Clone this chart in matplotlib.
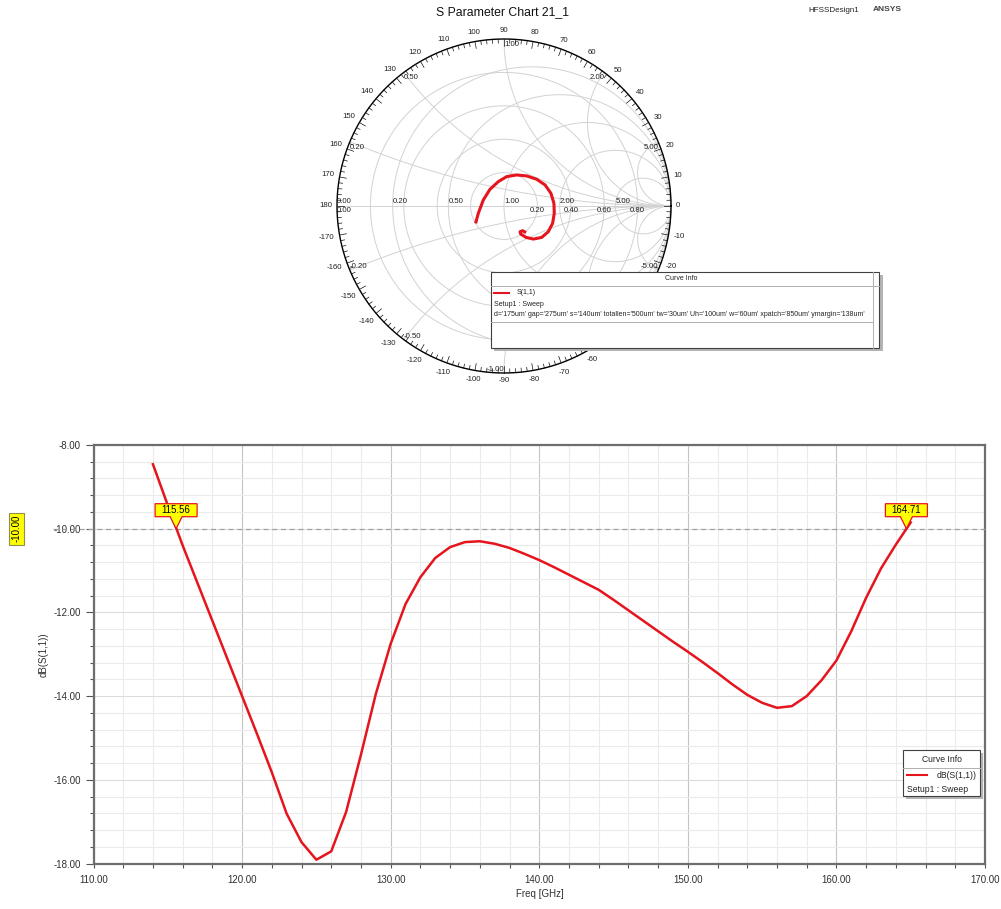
import numpy as np
import matplotlib.pyplot as plt
from matplotlib.patches import Rectangle, Polygon
from matplotlib import transforms

plt.rcParams['font.family'] = ['Liberation Sans', 'DejaVu Sans']

W, H = 1001, 909
RED = '#e5141d'
GRID = '#d2d2d2'
LBL = 5.6

# S(1,1) trace on the Smith chart (reflection coefficient)
s11_re = [-0.170, -0.154, -0.124, -0.084, -0.034, 0.016, 0.076, 0.136, 0.196, 0.246, 0.281,
          0.299, 0.301, 0.291, 0.265, 0.226, 0.176, 0.132, 0.100, 0.096, 0.112, 0.132]
s11_im = [-0.104, -0.044, 0.036, 0.100, 0.146, 0.176, 0.186, 0.180, 0.160, 0.126, 0.076,
          0.016, -0.044, -0.104, -0.154, -0.188, -0.198, -0.188, -0.168, -0.154, -0.148, -0.160]

# dB(S(1,1)) sweep, 1 GHz step
freq_ghz = list(range(114, 166))
db_s11 = [-8.46, -9.44, -10.40, -11.30, -12.20, -13.10, -14.00, -14.90, -15.82, -16.81,
          -17.49, -17.91, -17.71, -16.77, -15.40, -13.95, -12.75, -11.80, -11.16, -10.70,
          -10.44, -10.32, -10.30, -10.36, -10.46, -10.60, -10.75, -10.92, -11.10, -11.28,
          -11.46, -11.70, -11.95, -12.20, -12.45, -12.70, -12.94, -13.19, -13.45, -13.72,
          -13.97, -14.16, -14.28, -14.24, -14.00, -13.62, -13.15, -12.45, -11.65, -10.95,
          -10.38, -9.85]

marker_freqs = [115.56, 164.71]
marker_level = -10.0

r_circles = [0.2, 0.5, 1.0, 2.0, 5.0]
x_arcs = [0.2, 0.5, 1.0, 2.0, 5.0]
mag_circles = [0.2, 0.4, 0.6, 0.8]

param_text = ("d='175um' gap='275um' s='140um' totallen='500um' tw='30um' Uh='100um' "
              "w='60um' xpatch='850um' ymargin='138um'")

fig = plt.figure(figsize=(W / 100, H / 100), dpi=100)


def fx(px):
    return px / W


def fy(py):
    return 1 - py / H


def gamma(z):
    return (z - 1) / (z + 1)


# ---------------- Smith chart ----------------
cx, cy, R = 504.0, 206.0, 167.0
half = 200.0
sm = fig.add_axes([fx(cx - half), fy(cy + half), 2 * half / W, 2 * half / H])
lim = half / R
sm.set_xlim(-lim, lim)
sm.set_ylim(-lim, lim)
sm.set_axis_off()
px = 1.0 / R  # one pixel in chart units

t = np.linspace(0, 2 * np.pi, 721)
for r in r_circles:
    c, a = r / (1 + r), 1 / (1 + r)
    sm.plot(c + a * np.cos(t), a * np.sin(t), color=GRID, lw=0.7, zorder=1)
for m in mag_circles:
    sm.plot(m * np.cos(t), m * np.sin(t), color=GRID, lw=0.7, zorder=1)
rr = np.concatenate([np.linspace(0, 1, 200), np.logspace(0, 4, 400)])
for x in x_arcs:
    for sgn in (1, -1):
        g = gamma(rr + 1j * sgn * x)
        sm.plot(g.real, g.imag, color=GRID, lw=0.7, zorder=1)
sm.plot([-1, 1], [0, 0], color=GRID, lw=0.7, zorder=1)
sm.plot(np.cos(t), np.sin(t), color='black', lw=1.0, zorder=3)

# angle ticks, pointing inward
for deg in range(0, 360, 2):
    th = np.radians(deg)
    ln = (7 if deg % 10 == 0 else 4) * px
    sm.plot([np.cos(th), (1 - ln) * np.cos(th)], [np.sin(th), (1 - ln) * np.sin(th)],
            color='#111111', lw=0.5, zorder=3)

for deg in range(-170, 181, 10):
    th = np.radians(deg)
    lab = str(deg)
    w = 4.3 * len(lab.replace('-', '')) + (2.6 if deg < 0 else 0)
    h = 6.0
    rad = R + 5 + 0.5 * (w * abs(np.cos(th)) + h * abs(np.sin(th)))
    sm.text(rad / R * np.cos(th), rad / R * np.sin(th), lab, fontsize=LBL,
            ha='center', va='center', color='#222222', zorder=4)

# resistance labels above the axis, magnitude labels below
for r in [0.0] + r_circles:
    sm.text(gamma(r), 1 * px, f'{r:.2f}', fontsize=LBL, ha='left', va='bottom',
            color='#222222', zorder=4)
sm.text(-1, -1 * px, '0.00', fontsize=LBL, ha='left', va='top', color='#222222', zorder=4)
for m in mag_circles:
    sm.text(m, -1 * px, f'{m:.2f}', fontsize=LBL, ha='center', va='top',
            color='#222222', zorder=4)

# reactance labels at the rim
for x in x_arcs:
    for sgn in (1, -1):
        g = gamma(1j * sgn * x)
        if g.real < -1e-6 or (abs(g.real) < 1e-6 and sgn > 0):
            ha = 'left'
        else:
            ha = 'right'
        if sgn > 0:
            sm.text(g.real, g.imag - 2 * px, f'{x:.2f}', fontsize=LBL, ha=ha, va='top',
                    color='#222222', zorder=4)
        else:
            sm.text(g.real, g.imag, f'{-x:.2f}', fontsize=LBL, ha=ha, va='bottom',
                    color='#222222', zorder=4)

sm.plot(s11_re, s11_im, color=RED, lw=2.2, zorder=5, solid_capstyle='butt')

# ---------------- dB plot ----------------
x0, x1, y0, y1 = 93.5, 985.0, 445.0, 863.5
ax = fig.add_axes([fx(x0), fy(y1), (x1 - x0) / W, (y1 - y0) / H])
ax.set_xlim(110, 170)
ax.set_ylim(-18, -8)
ax.set_xticks(np.arange(110, 171, 10))
ax.set_xticks(np.arange(110, 171, 2), minor=True)
ax.set_yticks(np.arange(-18, -7.9, 2))
ax.set_yticks(np.arange(-18, -7.9, 0.4), minor=True)
ax.xaxis.set_major_formatter(plt.FormatStrFormatter('%.2f'))
ax.yaxis.set_major_formatter(plt.FormatStrFormatter('%.2f'))
ax.grid(which='minor', color='#ebebeb', lw=0.8)
ax.grid(which='major', axis='x', color='#c4c4c4', lw=0.8)
ax.grid(which='major', axis='y', color='#dcdcdc', lw=0.8)
ax.set_axisbelow(True)
for s in ax.spines.values():
    s.set_color('#6e6e6e')
    s.set_linewidth(1.6)
ax.tick_params(axis='x', which='major', length=3, width=0.8, pad=5, labelsize=7,
               color='#555555', labelcolor='#303030')
ax.tick_params(axis='x', which='minor', length=3, width=0.8, color='#555555')
ax.tick_params(axis='y', which='major', length=6, width=0.8, pad=3, labelsize=7,
               color='#555555', labelcolor='#303030')
ax.tick_params(axis='y', which='minor', length=3, width=0.8, color='#555555')

ax.plot(freq_ghz, db_s11, color=RED, lw=1.8, zorder=4)

blend = transforms.blended_transform_factory(ax.transAxes, ax.transData)
ax.plot([-0.045, 1], [marker_level, marker_level], transform=blend, clip_on=False,
        color='#a0a0a0', lw=0.9, ls=(0, (4, 3)), zorder=3)
ax.text(-0.0862, marker_level, f'{marker_level:.2f}', transform=blend, rotation=90,
        ha='center', va='center', fontsize=7, color='black',
        bbox=dict(boxstyle='square,pad=0.25', fc='#ffff00', ec='#8f8f50', lw=0.8))

# callouts: shape in inches relative to the marker point
shape = np.array([(0, 0), (6, 12), (21, 12), (21, 25), (-21, 25), (-21, 12), (-6, 12)]) / 100.0
for f in marker_freqs:
    tr = fig.dpi_scale_trans + transforms.ScaledTranslation(f, marker_level, ax.transData)
    ax.add_patch(Polygon(shape, closed=True, transform=tr, fc='#ffff00', ec='#e8141d',
                         lw=0.9, clip_on=False, zorder=6))
    ax.text(0, 0.185, f'{f:.2f}', transform=tr, ha='center', va='center', fontsize=7,
            color='black', zorder=7, clip_on=False)

fig.text(fx(44), fy(655), 'dB(S(1,1))', rotation=90, ha='center', va='center',
         fontsize=7, color='#303030')
fig.text(fx(540), fy(894), 'Freq [GHz]', ha='center', va='center', fontsize=7,
         color='#303030')

# ---------------- overlay in pixel coordinates ----------------
ov = fig.add_axes([0, 0, 1, 1], zorder=10)
ov.set_xlim(0, W)
ov.set_ylim(H, 0)
ov.set_axis_off()

ov.text(503, 12, 'S Parameter Chart 21_1', ha='center', va='center', fontsize=8.8,
        color='#111111')
ov.text(808, 11, 'HFSSDesign1', ha='left', va='center', fontsize=5.8, color='#222222')
ov.text(873, 9.5, 'ANSYS', ha='left', va='center', fontsize=6, fontweight='bold',
        color='#444444')

# Smith chart curve info box
ov.add_patch(Rectangle((494, 274.5), 389, 76, fc='#b4b4b4', ec='none'))
ov.add_patch(Rectangle((491, 271.7), 388.3, 76, fc='white', ec='#404040', lw=0.8))
ov.plot([491, 879.3], [285.7, 285.7], color='#b0b0b0', lw=0.7)
ov.plot([491, 872.7], [321.7, 321.7], color='#b0b0b0', lw=0.7)
ov.plot([872.7, 872.7], [271.7, 347.7], color='#b0b0b0', lw=0.7)
ov.text(681.7, 279, 'Curve Info', ha='center', va='center', fontsize=5, color='#222222')
ov.plot([494, 509.3], [292.7, 292.7], color=RED, lw=1.5)
ov.text(516.7, 292.7, 'S(1,1)', ha='left', va='center', fontsize=5, color='#222222')
ov.text(494, 304, 'Setup1 : Sweep', ha='left', va='center', fontsize=5, color='#222222')
ov.text(494, 315, param_text, ha='left', va='center', fontsize=5, color='#222222')

# dB plot curve info box
ov.add_patch(Rectangle((906, 753), 77, 46, fc='#b4b4b4', ec='none'))
ov.add_patch(Rectangle((903.3, 750), 76.7, 46, fc='white', ec='#404040', lw=0.8))
ov.plot([903.3, 980], [768.3, 768.3], color='#b0b0b0', lw=0.7)
ov.text(941.7, 759, 'Curve Info', ha='center', va='center', fontsize=6.2, color='#222222')
ov.plot([907, 926.7], [775, 775], color=RED, lw=1.5)
ov.text(977, 775.5, 'dB(S(1,1))', ha='right', va='center', fontsize=6.2, color='#222222')
ov.text(907.3, 789, 'Setup1 : Sweep', ha='left', va='center', fontsize=6.2, color='#222222')

fig.savefig('out.png', dpi=100)
